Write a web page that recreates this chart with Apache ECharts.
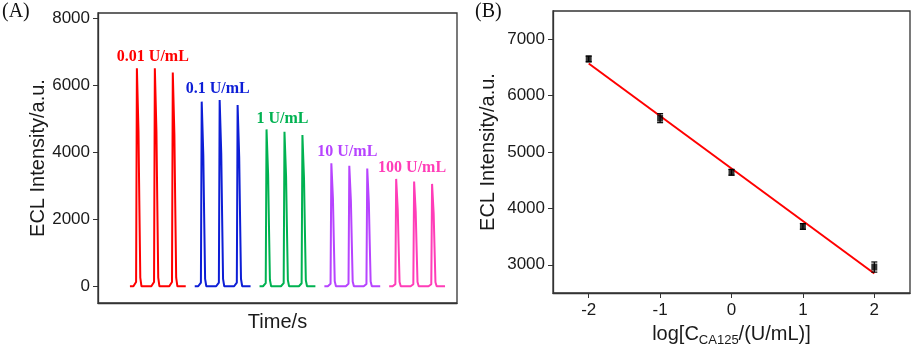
<!DOCTYPE html>
<html>
<head>
<meta charset="utf-8">
<script src="https://cdn.jsdelivr.net/npm/echarts@6/dist/echarts.min.js"></script>
<style>
  html, body { margin: 0; padding: 0; background: #fff; }
  #chart { width: 913px; height: 352px; }
</style>
</head>
<body>
<div id="chart"></div>
<script>
// ---- panel A: ECL transients ----
const levels = ['0.01 U/mL', '0.1 U/mL', '1 U/mL', '10 U/mL', '100 U/mL'];
const levelColors = ['#ff0000', '#0d1ed6', '#00b251', '#b744ff', '#ff3db8'];
const peakTimes = [
  [39, 57, 75],
  [104, 122, 140],
  [169, 187, 205],
  [234, 252, 270],
  [299, 317, 335]
];
const peakHeights = [
  [6520, 6520, 6390],
  [5520, 5570, 5420],
  [4690, 4620, 4520],
  [3680, 3600, 3520],
  [3210, 3130, 3060]
];
const runStart = [32, 97, 162, 227, 292];
const runEnd = [88, 153, 218, 283, 348];
const pulseShape = [[-3.5, 0], [-2.5, 0.005], [-0.8, 0.02], [0, 1], [1.6, 0.71], [2.4, 0.4], [3.4, 0.04], [4.6, 0]];
const yTicksA = [0, 2000, 4000, 6000, 8000];

// ---- panel B: calibration ----
const logConc = [-2, -1, 0, 1, 2];
const meanEcl = [6650, 5600, 4640, 3680, 2960];
const errEcl = [50, 80, 50, 50, 90];
const fitX = [-2, 2];
const fitY = [6570, 2845];
const xTicksB = [-2, -1, 0, 1, 2];
const yTicksB = [3000, 4000, 5000, 6000, 7000];

const axisColor = '#333';
const textColor = '#1a1a1a';
const sans = 'Liberation Sans';
const plain = function (v) { return String(v); };

function runData(i) {
  var pts = [[runStart[i], 0]];
  peakTimes[i].forEach(function (t, j) {
    var h = peakHeights[i][j];
    pulseShape.forEach(function (p) {
      pts.push([t + p[0], p[1] * h]);
    });
  });
  pts.push([runEnd[i], 0]);
  return pts;
}

var chart = echarts.init(document.getElementById('chart'));

var series = levels.map(function (name, i) {
  var maxH = Math.max.apply(null, peakHeights[i]);
  return {
    name: name,
    type: 'line',
    xAxisIndex: 0,
    yAxisIndex: 0,
    data: runData(i),
    symbol: 'none',
    lineStyle: { color: levelColors[i], width: 2 },
    markPoint: {
      symbol: 'circle',
      symbolSize: 0,
      data: [{ coord: [peakTimes[i][1], maxH], value: name }],
      label: {
        show: true,
        position: 'top',
        distance: 3,
        offset: [-2, 0],
        formatter: name,
        color: levelColors[i],
        fontFamily: 'Liberation Serif',
        fontWeight: 'bold',
        fontSize: 16
      }
    }
  };
});

series.push({
  type: 'line',
  xAxisIndex: 1,
  yAxisIndex: 1,
  data: fitX.map(function (x, i) { return [x, fitY[i]]; }),
  symbol: 'none',
  lineStyle: { color: '#ff0000', width: 2 },
  z: 3
});

series.push({
  type: 'custom',
  xAxisIndex: 1,
  yAxisIndex: 1,
  data: logConc.map(function (x, i) { return [x, meanEcl[i], errEcl[i]]; }),
  encode: { x: 0, y: 1 },
  renderItem: function (params, api) {
    var x = api.value(0), y = api.value(1), e = api.value(2);
    var top = api.coord([x, y + e]);
    var bot = api.coord([x, y - e]);
    var w = 3;
    var st = { stroke: '#000', lineWidth: 1.2 };
    return {
      type: 'group',
      children: [
        { type: 'line', shape: { x1: top[0], y1: top[1], x2: bot[0], y2: bot[1] }, style: st },
        { type: 'line', shape: { x1: top[0] - w, y1: top[1], x2: top[0] + w, y2: top[1] }, style: st },
        { type: 'line', shape: { x1: bot[0] - w, y1: bot[1], x2: bot[0] + w, y2: bot[1] }, style: st }
      ]
    };
  },
  z: 4
});

series.push({
  type: 'scatter',
  xAxisIndex: 1,
  yAxisIndex: 1,
  data: logConc.map(function (x, i) { return [x, meanEcl[i]]; }),
  symbol: 'rect',
  symbolSize: [6, 7],
  itemStyle: { color: '#000' },
  z: 5
});

var option = {
  animation: false,
  backgroundColor: '#fff',
  grid: [
    { left: 98, top: 13, width: 359, height: 290, show: true, borderColor: axisColor, borderWidth: 1.3, backgroundColor: 'transparent' },
    { left: 553, top: 11, width: 357, height: 287, show: true, borderColor: axisColor, borderWidth: 1.3, backgroundColor: 'transparent' }
  ],
  xAxis: [
    {
      gridIndex: 0,
      type: 'value',
      min: 0,
      max: 360,
      axisLine: { show: true, onZero: false, lineStyle: { color: axisColor, width: 1.3 } },
      axisTick: { show: false },
      axisLabel: { show: false },
      splitLine: { show: false },
      name: 'Time/s',
      nameLocation: 'middle',
      nameGap: 9,
      nameTextStyle: { fontFamily: sans, fontSize: 20, color: textColor, verticalAlign: 'top' }
    },
    {
      gridIndex: 1,
      type: 'value',
      min: -2.5,
      max: 2.5,
      axisLine: { show: true, onZero: false, lineStyle: { color: axisColor, width: 1.3 } },
      axisTick: { show: true, inside: false, length: 5, customValues: xTicksB, lineStyle: { color: axisColor } },
      axisLabel: { customValues: xTicksB, formatter: plain, fontFamily: sans, fontSize: 17, color: textColor, margin: 9 },
      splitLine: { show: false },
      name: 'log[C{sub|CA125}/(U/mL)]',
      nameLocation: 'middle',
      nameGap: 29,
      nameTextStyle: {
        fontFamily: sans, fontSize: 20, color: textColor, verticalAlign: 'top',
        rich: { sub: { fontFamily: sans, fontSize: 13, color: textColor, verticalAlign: 'bottom', padding: [12, 0, 0, 0] } }
      }
    }
  ],
  yAxis: [
    {
      gridIndex: 0,
      type: 'value',
      min: -500,
      max: 8170,
      axisLine: { show: true, onZero: false, lineStyle: { color: axisColor, width: 1.3 } },
      axisTick: { show: true, inside: false, length: 5, customValues: yTicksA, lineStyle: { color: axisColor } },
      axisLabel: { customValues: yTicksA, formatter: plain, fontFamily: sans, fontSize: 17, color: textColor, margin: 8 },
      splitLine: { show: false },
      name: 'ECL Intensity/a.u.',
      nameLocation: 'middle',
      nameRotate: 90,
      nameGap: 50,
      nameTextStyle: { fontFamily: sans, fontSize: 20, color: textColor }
    },
    {
      gridIndex: 1,
      type: 'value',
      min: 2500,
      max: 7500,
      axisLine: { show: true, onZero: false, lineStyle: { color: axisColor, width: 1.3 } },
      axisTick: { show: true, inside: false, length: 5, customValues: yTicksB, lineStyle: { color: axisColor } },
      axisLabel: { customValues: yTicksB, formatter: plain, fontFamily: sans, fontSize: 17, color: textColor, margin: 8 },
      splitLine: { show: false },
      name: 'ECL Intensity/a.u.',
      nameLocation: 'middle',
      nameRotate: 90,
      nameGap: 55,
      nameTextStyle: { fontFamily: sans, fontSize: 20, color: textColor }
    }
  ],
  graphic: [
    { type: 'text', left: 2, top: 2, style: { text: '(A)', fontFamily: 'Liberation Serif', fontSize: 20, fill: '#111' } },
    { type: 'text', left: 475, top: 2, style: { text: '(B)', fontFamily: 'Liberation Serif', fontSize: 20, fill: '#111' } }
  ],
  series: series
};

chart.setOption(option);
</script>
</body>
</html>
